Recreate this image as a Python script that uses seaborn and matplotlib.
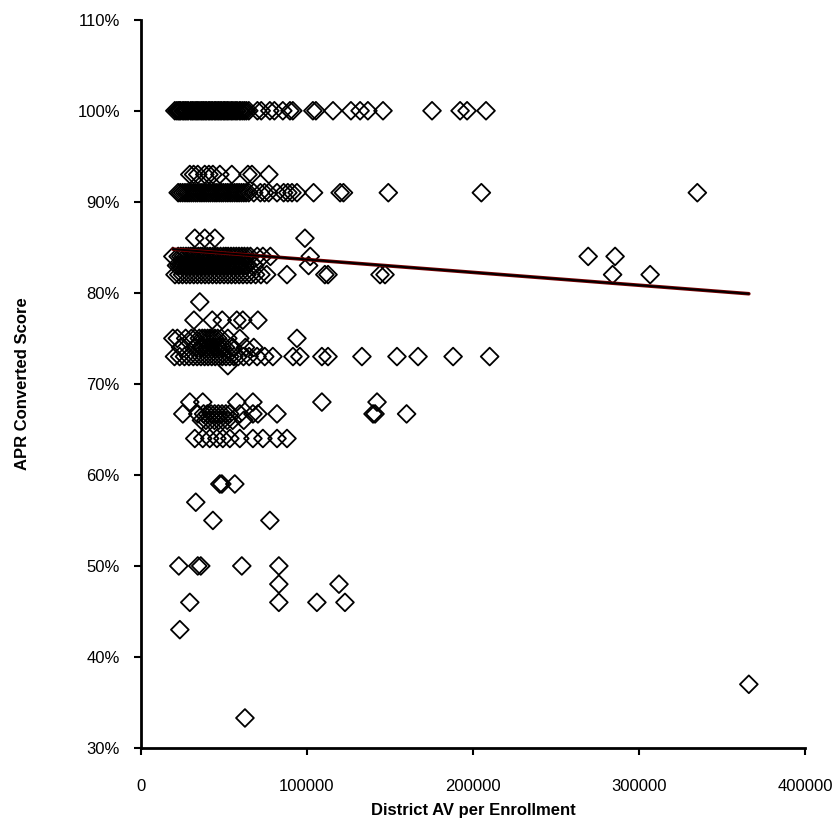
import matplotlib
matplotlib.use("Agg")
import matplotlib.pyplot as plt
import matplotlib.ticker as mticker
import numpy as np
import pandas as pd
import seaborn as sns

# ---- data (District AV per enrollment, grouped by APR score level) ----
av_100 = [20500, 21700, 22600, 23400, 24100, 25300, 26000, 26900, 27800, 28600, 29900,
          30800, 31500, 32600, 33400, 34300, 35100, 36200, 36900, 37800, 38700, 39500,
          40600, 41400, 42300, 43100, 44200, 45000, 45900, 46800, 47700, 48500, 49600,
          50400, 51300, 52200, 53100, 54300, 55000, 56100, 57200, 58000, 59300, 60200,
          61400, 62500, 63600, 65000, 70200, 72500, 77700, 80400, 85500, 89800, 91500,
          103600, 105400, 115700, 126500, 132000, 136700, 145800, 175300, 192200,
          196400, 207800]
av_93 = [29500, 31800, 34300, 38500, 41000, 43400, 47600, 54800, 64500, 66900, 77100]
av_91 = [22500, 23800, 25200, 26600, 27900, 29100, 30400, 31700, 33000, 34200, 35600,
         36800, 38100, 39400, 40700, 41900, 43300, 44600, 45800, 47200, 48500, 49700,
         51100, 52400, 53800, 55100, 56500, 57900, 59200, 60600, 62000, 63400, 65000,
         68000, 72000, 74500, 77000, 82000, 86000, 88500, 91000, 94000, 104000, 120000,
         122000, 149000, 205000, 335000]
av_86 = [32500, 38500, 44600, 98800]
av_84 = [19300, 22500, 24100, 25600, 27200, 28700, 30100, 31400, 33000, 34600, 36000,
         37200, 38700, 40100, 41700, 43300, 44800, 46200, 48000, 49800, 51200, 52600,
         54300, 55900, 57500, 59100, 60800, 62400, 64200, 66000, 70100, 73500, 78000,
         102000, 269300, 285500]
av_83 = [21500, 23000, 24300, 25700, 27100, 28400, 29800, 31200, 32500, 34000, 35400,
         36800, 38200, 39600, 41100, 42500, 43900, 45300, 46800, 48100, 49500, 51000,
         52400, 53900, 55300, 56700, 58100, 59700, 61300, 62800, 64200, 68500, 101000]
av_82 = [20600, 22900, 25100, 27400, 29600, 31900, 34100, 36400, 38700, 40900, 43200,
         45500, 47700, 50100, 52400, 54600, 56900, 59200, 61500, 63900, 66300, 69100,
         72300, 75800, 88000, 110800, 112700, 144000, 147000, 284000, 306600]
av_79 = [35500]
av_77 = [32000, 43000, 49000, 57800, 61400, 70500]
av_75 = [19300, 22000, 27000, 30500, 32500, 35200, 37000, 38500, 40200, 41700, 43100,
         44600, 46300, 48500, 52400, 59600, 94000]
av_74 = [24000, 33000, 36000, 37500, 39800, 42000, 44500, 46500, 49000, 51000, 55500,
         63000, 68000]
av_73 = [20300, 23400, 26300, 29000, 31600, 33900, 36200, 38400, 40500, 42700, 44800,
         46900, 49100, 51300, 53600, 56000, 58600, 61800, 65200, 70000, 74600, 79500,
         91600, 95800, 109000, 112700, 133100, 154200, 166900, 188000, 210000]
av_72 = [52400]
av_68 = [29500, 37300, 57800, 67500, 109000, 142200]
av_67 = [25300, 34300, 37800, 40100, 42300, 44500, 46700, 48900, 51200, 53500, 59600,
         67500, 70500, 82000, 139800, 141000, 160000]
av_66 = [36500, 39200, 41800, 44300, 46900, 49300, 52000, 55300, 62000]
av_64 = [32500, 37300, 41500, 45800, 49400, 53600, 59600, 67500, 73500, 82000, 88000]
av_59 = [47600, 48800, 56600]
av_57 = [33100]
av_55 = [43400, 77700]
av_50 = [22900, 34300, 36100, 60800, 83100]
av_48 = [83100, 119300]
av_46 = [29500, 83100, 106000, 122900]
av_43 = [23500]
av_37 = [366000]
av_33 = [62700]

score_levels = [1.00, 0.93, 0.91, 0.86, 0.84, 0.83, 0.82, 0.79, 0.77, 0.75, 0.74, 0.73,
                0.72, 0.68, 0.667, 0.66, 0.64, 0.59, 0.57, 0.55, 0.50, 0.48, 0.46, 0.43,
                0.37, 0.333]
av_groups = [av_100, av_93, av_91, av_86, av_84, av_83, av_82, av_79, av_77, av_75, av_74,
             av_73, av_72, av_68, av_67, av_66, av_64, av_59, av_57, av_55, av_50, av_48,
             av_46, av_43, av_37, av_33]

# linear trendline (Excel-style), endpoints at the data range
trend_x = [19300, 366000]
trend_y = [0.848, 0.799]

xticks = [0, 100000, 200000, 300000, 400000]
yticks = [0.30, 0.40, 0.50, 0.60, 0.70, 0.80, 0.90, 1.00, 1.10]

# ---- build table ----
rows = []
for lvl, xs in zip(score_levels, av_groups):
    for x in xs:
        rows.append((x, lvl))
df = pd.DataFrame(rows, columns=["av", "score"])
trend = pd.DataFrame({"av": trend_x, "score": trend_y})

# ---- plot ----
sns.set_style("white")
plt.rcParams["font.family"] = ["Liberation Sans", "DejaVu Sans"]
plt.rcParams["text.color"] = "black"
plt.rcParams["axes.labelcolor"] = "black"

fig = plt.figure(figsize=(8.38, 8.22), dpi=100)
ax = fig.add_axes([0.168, 0.090, 0.793, 0.886])

sns.scatterplot(data=df, x="av", y="score", ax=ax, marker="D", s=82,
                linewidth=1.3, legend=False)
coll = ax.collections[0]
coll.set_facecolor("none")
coll.set_edgecolor("black")

sns.lineplot(data=trend, x="av", y="score", ax=ax, color="#7a0000", linewidth=2.6)
sns.lineplot(data=trend, x="av", y="score", ax=ax, color="black", linewidth=1.4)

ax.set_xlim(0, 400000)
ax.set_ylim(0.30, 1.10)
ax.set_xticks(xticks)
ax.set_yticks(yticks)
ax.xaxis.set_major_formatter(mticker.FuncFormatter(lambda v, p: f"{int(v)}"))
ax.yaxis.set_major_formatter(mticker.PercentFormatter(1.0, decimals=0))

for side in ["top", "right"]:
    ax.spines[side].set_visible(False)
for side in ["left", "bottom"]:
    ax.spines[side].set_linewidth(2)
    ax.spines[side].set_color("black")

ax.tick_params(axis="both", which="major", direction="out", length=5, width=1.5,
               colors="black", labelcolor="black", labelsize=12,
               bottom=True, left=True, top=False, right=False)
ax.tick_params(axis="x", pad=17)
ax.tick_params(axis="y", pad=10)

ax.set_xlabel("District AV per Enrollment", fontsize=12, fontweight="bold",
              labelpad=7, color="black")
ax.set_ylabel("APR Converted Score", fontsize=12, fontweight="bold",
              labelpad=34, color="black")

fig.savefig("out.png", dpi=100)
